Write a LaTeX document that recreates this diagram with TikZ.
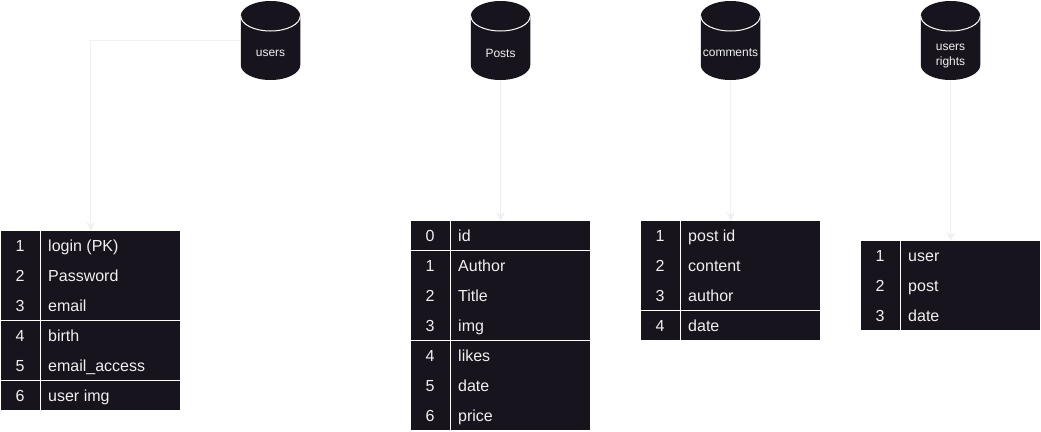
\documentclass[tikz,border=0pt]{standalone}
\usepackage{fontspec}
\setmainfont{Liberation Sans}
\usetikzlibrary{arrows.meta}
\definecolor{darkfill}{HTML}{18141D}
\definecolor{paletxt}{HTML}{F0F0F0}
\definecolor{linkgrey}{HTML}{F0F0F0}
\tikzset{
  x=1pt,y=-1pt,
  cylbox/.style={rectangle,inner sep=0pt,minimum width=60pt,minimum height=80pt},
  cyltext/.style={text=paletxt,font=\fontsize{12}{15}\selectfont,align=center,inner sep=0pt},
  tablebox/.style={rectangle,fill=darkfill,inner sep=0pt,minimum width=179pt,anchor=north west},
  numcell/.style={text=paletxt,font=\fontsize{16}{19}\selectfont,inner sep=0pt},
  txtcell/.style={text=paletxt,font=\fontsize{16}{19}\selectfont,inner sep=0pt,anchor=base west},
  sepline/.style={draw=white,line width=1pt},
  link/.style={draw=linkgrey,line width=1pt,-{Stealth[length=9pt,width=9pt]}},
}
% name, left x of the drum
\newcommand{\drum}[2]{%
  \fill[darkfill] (#2-0.25,16) arc[x radius=29.75,y radius=-15,start angle=180,end angle=0]
    -- (#2+59.25,65) arc[x radius=29.75,y radius=-15,start angle=0,end angle=-180] -- cycle;
  \draw[white,line width=1pt] (#2-0.25,16) arc[x radius=29.75,y radius=-15,start angle=180,end angle=360];
  \node[cylbox] (#1) at (#2+29.5,40.5) {};
}
% name, left, top, height, rows as index/text
\newcommand{\dbtable}[5]{%
  \node[tablebox,minimum height=#4pt] (#1) at (#2,#3) {};
  \foreach \n/\t [count=\r from 0] in {#5} {
    \node[numcell] (#1num\r) at (#2+19,#3+14.75+30*\r) {\n};
    \node[txtcell] (#1txt\r) at (#2+47,#3+20+30*\r) {\t};
  }
  \draw[sepline] (#2+39.5,#3) -- (#2+39.5,#3+#4);
}
\begin{document}
\begin{tikzpicture}
\useasboundingbox (0,0) rectangle (1041,431);
\drum{users}{241}
\drum{posts}{471}
\drum{comments}{701}
\drum{rights}{921}
\node[cyltext] (usersl) at (270.5,53) {users};
\node[cyltext] (postsl) at (500.5,53) {Posts};
\node[cyltext] (commentsl) at (730.5,53) {comments};
\node[cyltext] (rightsl) at (950.5,56) {users\\rights};

\dbtable{ta}{1}{231}{179}{1/login (PK),2/Password,3/email,4/birth,5/email\_access,6/user img}
\draw[sepline] (ta.west |- 0,320.5) -- (ta.east |- 0,320.5);
\draw[sepline] (ta.west |- 0,380.5) -- (ta.east |- 0,380.5);

\dbtable{tb}{411}{221}{209}{0/id,1/Author,2/Title,3/img,4/likes,5/date,6/price}
\draw[sepline] (tb.west |- 0,250.5) -- (tb.east |- 0,250.5);
\draw[sepline] (tb.west |- 0,340.5) -- (tb.east |- 0,340.5);

\dbtable{tc}{641}{221}{119}{1/post id,2/content,3/author,4/date}
\draw[sepline] (tc.west |- 0,310.5) -- (tc.east |- 0,310.5);

\dbtable{td}{861}{241}{89}{1/user,2/post,3/date}

\draw[link] (users.west) -| (ta.north);
\draw[link] (posts.south) -- (tb.north);
\draw[link] (comments.south) -- (tc.north);
\draw[link] (rights.south) -- (td.north);
\end{tikzpicture}
\end{document}
